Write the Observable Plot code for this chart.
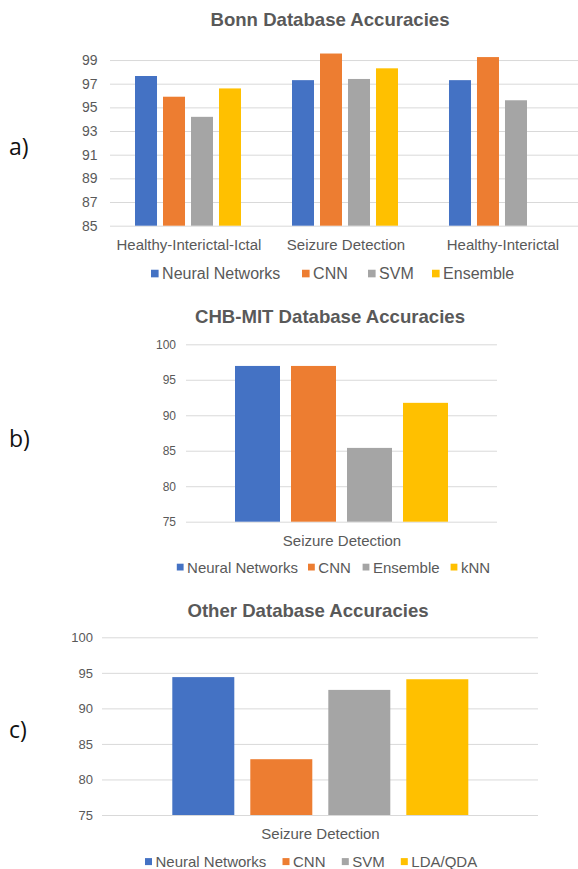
<!DOCTYPE html>
<html>
<head>
<meta charset="utf-8">
<script src="https://cdn.jsdelivr.net/npm/d3@7"></script>
<script src="https://cdn.jsdelivr.net/npm/@observablehq/plot@0.6"></script>
<style>
  html, body { margin: 0; padding: 0; background: #fff; overflow: hidden; }
  #page { position: relative; width: 578px; height: 869px; overflow: hidden; background: #fff; }
  .chart { position: absolute; left: 0; }
  #overlay { position: absolute; left: 0; top: 0; }
  #ca [aria-label^="y-axis"] text { font-size: 14px; }
  #cb [aria-label^="y-axis"] text { font-size: 12px; }
  #cc [aria-label^="y-axis"] text { font-size: 13px; }
  .chart [aria-label^="fx-axis"] text { font-size: 15px; }
</style>
</head>
<body>
<div id="page"></div>
<script>
// ---------- data ----------
const palette = ["#4472C4", "#ED7D31", "#A5A5A5", "#FFC000"];

// a) Bonn
const titleA = "Bonn Database Accuracies";
const catsA = ["Healthy-Interictal-Ictal", "Seizure Detection", "Healthy-Interictal"];
const seriesA = ["Neural Networks", "CNN", "SVM", "Ensemble"];
const nnA  = [97.65, 97.3, 97.3];
const cnnA = [95.9, 99.55, 99.25];
const svmA = [94.2, 97.4, 95.6];
const ensA = [96.6, 98.3, null];
const ticksA = [85, 87, 89, 91, 93, 95, 97, 99];
const maxA = 100;

// b) CHB-MIT
const titleB = "CHB-MIT Database Accuracies";
const catsB = ["Seizure Detection"];
const seriesB = ["Neural Networks", "CNN", "Ensemble", "kNN"];
const valuesB = [96.95, 96.95, 85.4, 91.75];
const ticksB = [75, 80, 85, 90, 95, 100];
const maxB = 100;

// c) Other
const titleC = "Other Database Accuracies";
const catsC = ["Seizure Detection"];
const seriesC = ["Neural Networks", "CNN", "SVM", "LDA/QDA"];
const valuesC = [94.4, 82.85, 92.6, 94.1];
const ticksC = [75, 80, 85, 90, 95, 100];
const maxC = 100;

const panelLabels = ["a)", "b)", "c)"];

// ---------- build rows ----------
const rowsA = [];
[nnA, cnnA, svmA, ensA].forEach((vals, si) => {
  vals.forEach((v, ci) => { if (v != null) rowsA.push({cat: catsA[ci], series: seriesA[si], value: v}); });
});
const rowsB = valuesB.map((v, i) => ({cat: catsB[0], series: seriesB[i], value: v}));
const rowsC = valuesC.map((v, i) => ({cat: catsC[0], series: seriesC[i], value: v}));

// ---------- layout ----------
const FONT = "'Liberation Sans', Arial, sans-serif";
const page = document.getElementById("page");

function makeChart(id, cfg) {
  const {rows, series, cats, ticks, yMax, top, width, marginLeft, marginRight, marginTop, plotH, tickPad} = cfg;
  const marginBottom = 30;
  const svg = Plot.plot({
    width,
    height: marginTop + plotH + marginBottom,
    marginLeft, marginRight, marginTop, marginBottom,
    style: {background: "transparent", color: "#595959", fontFamily: FONT, fontSize: "14px", overflow: "visible"},
    facet: {data: rows, x: "cat"},
    fx: {domain: cats, padding: 0, label: null, axis: "bottom", tickSize: 0, tickPadding: 13},
    x: {domain: series, paddingInner: 0.2, paddingOuter: 0.86, axis: null},
    y: {domain: [ticks[0], yMax], ticks: ticks, tickSize: 0, tickPadding: tickPad, label: null},
    color: {domain: series, range: palette},
    marks: [
      Plot.ruleY(ticks, {stroke: "#d9d9d9", strokeWidth: 1}),
      Plot.barY(rows, {x: "series", y1: ticks[0], y2: "value", fill: "series"})
    ]
  });
  const div = document.createElement("div");
  div.className = "chart";
  div.id = id;
  div.style.top = top + "px";
  div.style.width = width + "px";
  div.appendChild(svg);
  page.appendChild(div);
}

makeChart("ca", {rows: rowsA, series: seriesA, cats: catsA, ticks: ticksA, yMax: maxA,
  top: 35, width: 581, marginLeft: 109, marginRight: 0, marginTop: 13.2, plotH: 177.5, tickPad: 13});
makeChart("cb", {rows: rowsB, series: seriesB, cats: catsB, ticks: ticksB, yMax: maxB,
  top: 335, width: 578, marginLeft: 186, marginRight: 80.6, marginTop: 9.3, plotH: 177.4, tickPad: 10.5});
makeChart("cc", {rows: rowsC, series: seriesC, cats: catsC, ticks: ticksC, yMax: maxC,
  top: 630, width: 578, marginLeft: 101.7, marginRight: 40.3, marginTop: 7.3, plotH: 177.7, tickPad: 9.5});

// ---------- overlay: titles, panel labels, legends ----------
const ov = d3.select(page).append("svg").attr("id", "overlay")
  .attr("width", 578).attr("height", 869)
  .style("font-family", FONT);

const titles = [
  {text: titleA, x: 330, y: 26},
  {text: titleB, x: 330, y: 323.3},
  {text: titleC, x: 308, y: 617.3}
];
ov.selectAll("text.title").data(titles).join("text").attr("class", "title")
  .attr("x", d => d.x).attr("y", d => d.y)
  .attr("text-anchor", "middle").attr("font-weight", "bold").attr("font-size", 18.6)
  .attr("fill", "#595959").text(d => d.text);

const panelPos = [{x: 9, y: 155}, {x: 9, y: 447}, {x: 9, y: 738}];
ov.selectAll("text.panel").data(panelLabels).join("text").attr("class", "panel")
  .attr("x", (d, i) => panelPos[i].x).attr("y", (d, i) => panelPos[i].y)
  .attr("font-family", "'Open Sans', 'Noto Sans', sans-serif").attr("font-size", 23)
  .attr("fill", "#111").text(d => d);

const legends = [
  {series: seriesA, xs: [151, 302, 368, 432], baseline: 279.3, size: 16, sq: 7.6},
  {series: seriesB, xs: [176.8, 308, 362.6, 450.6], baseline: 572.5, size: 15, sq: 6.8},
  {series: seriesC, xs: [145, 282.5, 341.8, 400.8], baseline: 867, size: 15, sq: 7}
];
legends.forEach(L => {
  const g = ov.append("g");
  L.series.forEach((s, i) => {
    const cy = L.baseline - 0.36 * L.size;
    g.append("rect").attr("x", L.xs[i]).attr("y", cy - L.sq / 2)
      .attr("width", L.sq).attr("height", L.sq).attr("fill", palette[i]);
    g.append("text").attr("x", L.xs[i] + L.sq + 3.5).attr("y", L.baseline)
      .attr("font-size", L.size).attr("fill", "#595959").text(s);
  });
});
</script>
</body>
</html>
